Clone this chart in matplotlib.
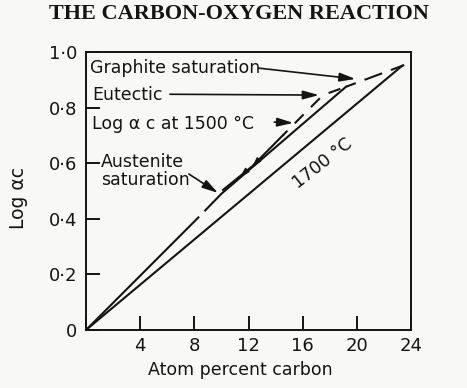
import matplotlib
matplotlib.use("Agg")
import matplotlib.pyplot as plt

# ---------------- data ----------------
x_ticks = [0, 4, 8, 12, 16, 20, 24]
x_tick_labels = ['', '4', '8', '12', '16', '20', '24']
y_ticks = [0, 0.2, 0.4, 0.6, 0.8, 1.0]
y_tick_labels = ['0', '0·2', '0·4', '0·6', '0·8', '1·0']

# 1700 C line
line1700_x = [0.0, 23.41]
line1700_y = [0.0, 0.953]

# 1500 C solid line (with small break)
s1_x = [0.0, 8.3]
s1_y = [0.0, 0.405]
s2_x = [8.8, 10.0, 19.2]
s2_y = [0.43, 0.49, 0.875]

# log ac at 1500 C curve, from austenite saturation to eutectic
u_solid_x = [10.12, 12.3, 14.55]
u_solid_y = [0.504, 0.59, 0.701]
u_dash_x = [14.55, 16.02, 17.13, 17.50, 19.2]
u_dash_y = [0.701, 0.773, 0.827, 0.845, 0.875]

# graphite saturation line
g_x = [19.2, 23.5]
g_y = [0.875, 0.953]

ink = '#141414'

fig = plt.figure(figsize=(4.67, 3.88), dpi=100)
fig.patch.set_facecolor('#f8f8f6')
ax = fig.add_axes([86/467, 58/388, 325/467, 278/388])
ax.set_facecolor('#f8f8f6')
ax.set_xlim(0, 24)
ax.set_ylim(0, 1.0)

for sp in ax.spines.values():
    sp.set_linewidth(1.4)
    sp.set_color(ink)

ax.set_xticks(x_ticks)
ax.set_xticklabels(x_tick_labels)
ax.set_yticks(y_ticks)
ax.set_yticklabels(y_tick_labels)
ax.tick_params(axis='both', direction='in', length=10, width=1.4, color=ink,
               labelsize=13, labelcolor=ink)
ax.tick_params(axis='x', pad=5)
ax.tick_params(axis='y', pad=6.5)

lw = 1.5
ax.plot(line1700_x, line1700_y, color=ink, lw=lw, solid_capstyle='butt')
ax.plot(s1_x, s1_y, color=ink, lw=lw)
ax.plot(s2_x, s2_y, color=ink, lw=lw)
ax.plot(u_solid_x, u_solid_y, color=ink, lw=lw)
ax.plot(u_dash_x, u_dash_y, color=ink, lw=lw, linestyle=(3, (6, 5)))
ax.plot(g_x, g_y, color=ink, lw=lw, linestyle=(4, (9, 4.5)))

# small arrowheads on lower part of the 1500 curve
for (tx, ty, hx, hy) in [(11.9, 0.575, 11.35, 0.548), (12.8, 0.615, 12.25, 0.585)]:
    ax.annotate('', xy=(hx, hy), xytext=(tx, ty),
                arrowprops=dict(arrowstyle='-|>,head_length=0.7,head_width=0.2',
                                color=ink, lw=0.8, shrinkA=0, shrinkB=0, mutation_scale=9))

fs = 12.5
def arrow(tail, tip):
    ax.annotate('', xy=tip, xytext=tail,
                arrowprops=dict(arrowstyle='-|>,head_length=0.8,head_width=0.22',
                                color=ink, lw=1.2, shrinkA=0, shrinkB=0, mutation_scale=12))

ax.text(0.3, 0.942, 'Graphite saturation', fontsize=fs, color=ink, va='center', ha='left')
arrow((12.75, 0.942), (19.9, 0.903))

ax.text(0.44, 0.845, 'Eutectic', fontsize=fs, color=ink, va='center', ha='left')
arrow((6.2, 0.848), (17.2, 0.845))

ax.text(0.44, 0.741, 'Log α c at 1500 °C', fontsize=fs, color=ink, va='center', ha='left')
arrow((13.9, 0.748), (15.3, 0.745))

ax.text(1.1, 0.604, 'Austenite', fontsize=fs, color=ink, va='center', ha='left')
ax.text(1.1, 0.54, 'saturation', fontsize=fs, color=ink, va='center', ha='left')
arrow((7.6, 0.561), (9.75, 0.493))

ax.text(17.5, 0.60, '1700 °C', fontsize=fs, color=ink, va='center', ha='center',
        rotation=38, rotation_mode='anchor')

fig.text(239/467, 1 - 14/388, 'THE CARBON-OXYGEN REACTION', fontsize=16,
         fontfamily='Liberation Serif', fontweight='bold', color=ink,
         ha='center', va='center')
fig.text(240/467, 1 - 370/388, 'Atom percent carbon', fontsize=fs, color=ink,
         ha='center', va='center')
fig.text(18/467, 1 - 198/388, 'Log αc', fontsize=13.5, color=ink, rotation=90,
         ha='center', va='center')

fig.savefig('out.png', dpi=100, facecolor=fig.get_facecolor())
